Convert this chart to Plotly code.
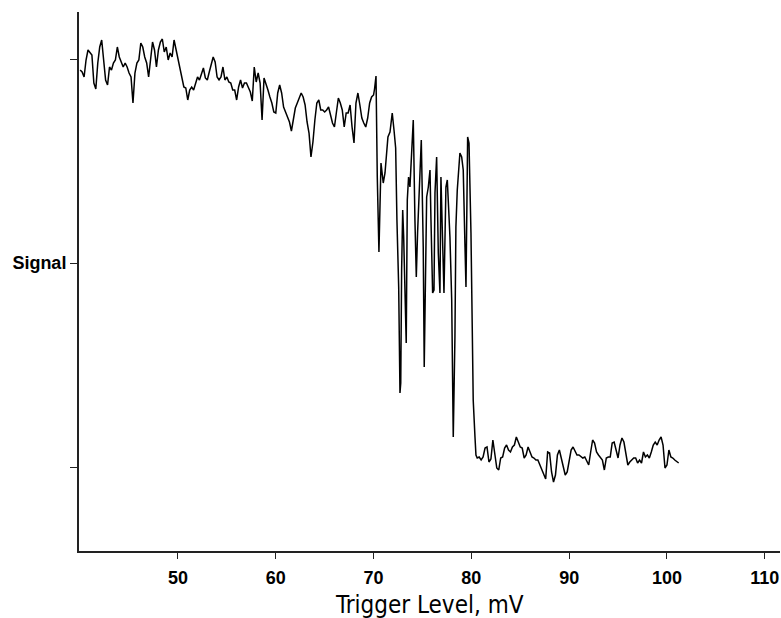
import plotly.graph_objects as go

# Trigger level sweep (mV) and measured signal (arbitrary units)
trigger_mv = [
    40.0, 40.2, 40.4, 40.6, 40.8, 41.0, 41.2, 41.4, 41.6, 41.8,
    42.0, 42.2, 42.4, 42.6, 42.8, 43.0, 43.2, 43.4, 43.6, 43.8,
    44.0, 44.2, 44.4, 44.6, 44.8, 45.0, 45.2, 45.4, 45.6, 45.8,
    46.0, 46.2, 46.4, 46.6, 46.8, 47.0, 47.2, 47.4, 47.6, 47.8,
    48.0, 48.2, 48.4, 48.6, 48.8, 49.0, 49.2, 49.4, 49.6, 49.8,
    50.0, 50.2, 50.4, 50.6, 50.8, 51.0, 51.2, 51.4, 51.6, 51.8,
    52.0, 52.2, 52.4, 52.6, 52.8, 53.0, 53.2, 53.4, 53.6, 53.8,
    54.0, 54.2, 54.4, 54.6, 54.8, 55.0, 55.2, 55.4, 55.6, 55.8,
    56.0, 56.2, 56.4, 56.6, 56.8, 57.0, 57.2, 57.4, 57.6, 57.8,
    58.0, 58.2, 58.4, 58.6, 58.8, 59.0, 59.2, 59.4, 59.6, 59.8,
    60.0, 60.2, 60.4, 60.6, 60.8, 61.0, 61.2, 61.4, 61.6, 61.8,
    62.0, 62.2, 62.4, 62.6, 62.8, 63.0, 63.2, 63.4, 63.6, 63.8,
    64.0, 64.2, 64.4, 64.6, 64.8, 65.0, 65.2, 65.4, 65.6, 65.8,
    66.0, 66.2, 66.4, 66.6, 66.8, 67.0, 67.2, 67.4, 67.6, 67.8,
    68.0, 68.2, 68.4, 68.6, 68.8, 69.0, 69.2, 69.4, 69.6, 69.8,
    70.0, 70.1, 70.25, 70.38, 70.55, 70.76, 70.99, 71.17, 71.47, 71.68,
    71.91, 72.09, 72.26, 72.39, 72.57, 72.7, 72.78, 72.87, 72.98, 73.08,
    73.15, 73.34, 73.45, 73.58, 73.72, 73.9, 74.06, 74.23, 74.37, 74.5,
    74.64, 74.74, 74.88, 74.98, 75.08, 75.18, 75.3, 75.43, 75.6, 75.77,
    75.87, 76.04, 76.18, 76.28, 76.45, 76.62, 76.79, 76.89, 77.03, 77.2,
    77.4, 77.54, 77.67, 77.81, 77.99, 78.15, 78.32, 78.42, 78.56, 78.73,
    78.83, 79.01, 79.17, 79.35, 79.45, 79.55, 79.62, 79.76, 79.86, 79.96,
    80.09, 80.19, 80.37, 80.47, 80.6, 80.8, 81.0, 81.2, 81.4, 81.6,
    81.8, 82.0, 82.2, 82.4, 82.6, 82.8, 83.0, 83.2, 83.4, 83.6,
    83.8, 84.0, 84.2, 84.4, 84.6, 84.8, 85.0, 85.2, 85.4, 85.6,
    85.8, 86.0, 86.2, 86.4, 86.6, 86.8, 87.0, 87.2, 87.4, 87.6,
    87.8, 88.0, 88.2, 88.4, 88.6, 88.8, 89.0, 89.2, 89.4, 89.6,
    89.8, 90.0, 90.2, 90.4, 90.6, 90.8, 91.0, 91.2, 91.4, 91.6,
    91.8, 92.0, 92.2, 92.4, 92.6, 92.8, 93.0, 93.2, 93.4, 93.6,
    93.8, 94.0, 94.2, 94.4, 94.6, 94.8, 95.0, 95.2, 95.4, 95.6,
    95.8, 96.0, 96.2, 96.4, 96.6, 96.8, 97.0, 97.2, 97.4, 97.6,
    97.8, 98.0, 98.2, 98.4, 98.6, 98.8, 99.0, 99.2, 99.4, 99.6,
    99.8, 100.0, 100.2, 100.4, 100.6, 100.8, 101.0, 101.2,
]

signal = [
    397, 395, 390, 407, 417, 414, 412, 384, 378, 404,
    420, 427, 407, 387, 382, 400, 397, 404, 407, 420,
    410, 405, 400, 404, 400, 394, 390, 364, 394, 404,
    407, 424, 420, 410, 404, 390, 410, 425, 417, 400,
    417, 425, 428, 415, 420, 407, 414, 410, 427, 417,
    407, 397, 387, 380, 379, 367, 377, 380, 377, 384,
    390, 387, 394, 399, 389, 387, 395, 404, 410, 405,
    390, 387, 390, 400, 387, 390, 385, 384, 377, 377,
    367, 380, 387, 379, 384, 384, 380, 375, 366, 400,
    385, 394, 384, 347, 389, 384, 377, 370, 364, 355,
    354, 374, 382, 374, 360, 355, 350, 345, 336, 350,
    359, 364, 369, 374, 370, 362, 345, 334, 310, 325,
    347, 364, 367, 357, 357, 355, 357, 360, 352, 344,
    340, 357, 369, 364, 357, 340, 354, 354, 362, 340,
    324, 364, 374, 362, 349, 344, 340, 349, 364, 370,
    372, 378, 391, 290, 215, 304, 284, 294, 330, 335,
    354, 337, 319, 247, 180, 74, 84, 197, 257, 230,
    200, 124, 267, 290, 280, 317, 347, 247, 190, 234,
    274, 307, 327, 274, 220, 100, 207, 270, 280, 297,
    247, 174, 177, 274, 310, 214, 174, 290, 237, 174,
    280, 287, 260, 230, 167, 30, 130, 240, 277, 297,
    314, 310, 297, 220, 180, 267, 330, 324, 284, 234,
    140, 67, 30, 12, 9, 10, 7, 10, 19, 20,
    5, 8, 27, 12, -1, -3, 9, 10, 19, 22,
    17, 15, 20, 22, 30, 25, 20, 19, 9, 12,
    20, 15, 10, 9, 7, 7, 2, -1, -8, -12,
    15, 14, -5, -15, -8, 12, 17, 9, -1, -8,
    -5, 7, 17, 20, 15, 12, 12, 10, 9, 10,
    5, 2, 15, 27, 24, 15, 12, 10, 7, -3,
    9, 10, 10, 24, 25, 17, 9, 22, 29, 25,
    14, 2, 5, 7, 9, 9, 4, 7, 4, 15,
    10, 12, 9, 15, 22, 25, 22, 27, 30, 22,
    -1, 2, 17, 10, 9, 7, 5, 4,
]

x_ticks = [50, 60, 70, 80, 90, 100, 110]
y_ticks = [0, 204, 408]
y_tick_labels = ["", "Signal", ""]
x_title = "Trigger Level, mV"

bold_font = "Liberation Sans, Arial, sans-serif"
title_font = "DejaVu Sans Condensed, Liberation Sans, sans-serif"

fig = go.Figure()
fig.add_trace(go.Scatter(
    x=trigger_mv, y=signal, mode="lines",
    line=dict(color="#000000", width=1.5),
    hoverinfo="x+y", showlegend=False,
))

fig.update_layout(
    width=781, height=618,
    margin=dict(l=79, r=1, t=12, b=67),
    paper_bgcolor="white", plot_bgcolor="white",
    annotations=[dict(
        text=x_title, xref="paper", yref="paper", x=0.5, y=-0.07,
        xanchor="center", yanchor="top", showarrow=False,
        font=dict(family=title_font, size=24, color="#000000"),
    )],
)
fig.update_xaxes(
    range=[39.88, 111.56], tickvals=x_ticks, ticktext=[str(v) for v in x_ticks],
    showgrid=False, zeroline=False, showline=True, linecolor="#222222", linewidth=2,
    ticks="outside", ticklen=6, tickwidth=1, tickcolor="#222222",
    ticklabeloverflow="allow", ticklabelstandoff=3,
    tickfont=dict(family=bold_font, size=18, color="#000000", weight="bold"),
)
fig.update_yaxes(
    range=[-84, 455], tickvals=y_ticks, ticktext=y_tick_labels,
    showgrid=False, zeroline=False, showline=True, linecolor="#222222", linewidth=2,
    ticks="outside", ticklen=7, tickwidth=1, tickcolor="#222222",
    tickfont=dict(family=bold_font, size=18, color="#000000", weight="bold"),
)

fig.write_html("out.html")
